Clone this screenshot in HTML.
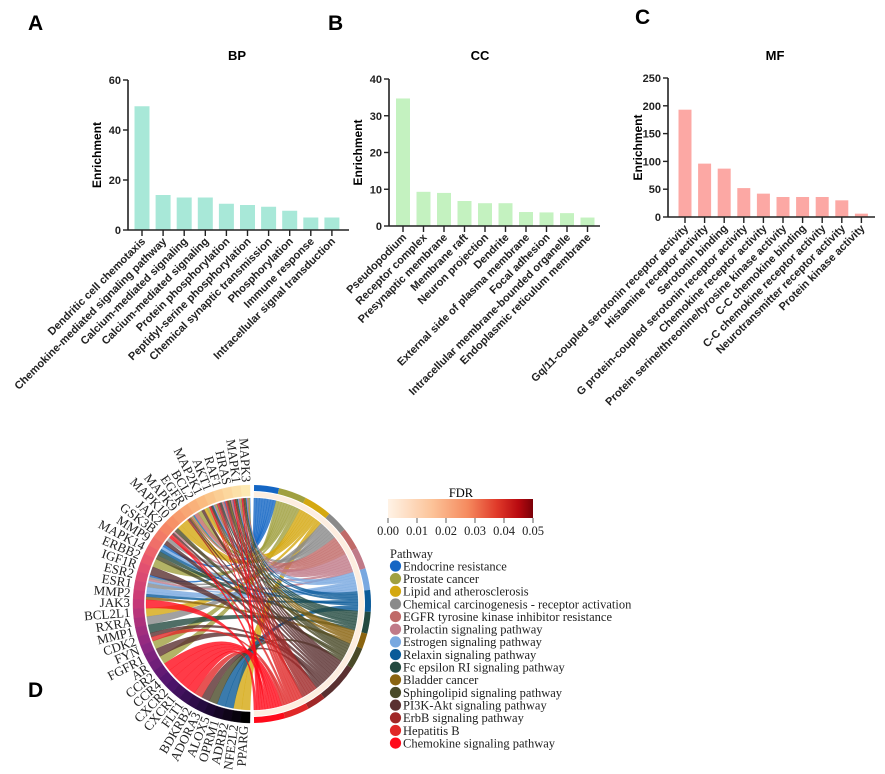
<!DOCTYPE html>
<html><head><meta charset="utf-8">
<style>
html,body{margin:0;padding:0;background:#fff;}
svg{display:block;}
.ax{font-family:"Liberation Sans",Arial,sans-serif;font-weight:bold;}
.tm{font-family:"Liberation Serif","Times New Roman",serif;}
</style></head>
<body>
<svg id="fig" width="885" height="774" viewBox="0 0 885 774" xmlns="http://www.w3.org/2000/svg">
<text x="28" y="30" class="ax" font-size="21">A</text>
<text x="328" y="30" class="ax" font-size="21">B</text>
<text x="635" y="24" class="ax" font-size="21">C</text>
<text x="28" y="697" class="ax" font-size="21">D</text>
<g id="panelA"></g>
<g id="panelB"></g>
<g id="panelC"></g>
<g id="chord"></g>
<g id="legend"></g>
</svg>
<script>
const bpCategories=["Dendritic cell chemotaxis","Chemokine-mediated signaling pathway","Calcium-mediated signaling","Calcium-mediated signaling","Protein phosphorylation","Peptidyl-serine phosphorylation","Chemical synaptic transmission","Phosphorylation","Immune response","Intracellular signal transduction"];
const bpValues=[49.5,14,13,13,10.5,10,9.3,7.7,5,5];
const bpTicks=[0,20,40,60];
const ccCategories=["Pseudopodium","Receptor complex","Presynaptic membrane","Membrane raft","Neuron projection","Dendrite","External side of plasma membrane","Focal adhesion","Intracellular membrane-bounded organelle","Endoplasmic reticulum membrane"];
const ccValues=[34.7,9.3,9,6.8,6.2,6.2,3.8,3.7,3.5,2.3];
const ccTicks=[0,10,20,30,40];
const mfCategories=["Gq/11-coupled serotonin receptor activity","Histamine receptor activity","Serotonin binding","G protein-coupled serotonin receptor activity","Chemokine receptor activity","Protein serine/threonine/tyrosine kinase activity","C-C chemokine binding","C-C chemokine receptor activity","Neurotransmitter receptor activity","Protein kinase activity"];
const mfValues=[193,96,87,52,42,36,36,36,30,6];
const mfTicks=[0,50,100,150,200,250];

const genes=["MAPK3","MAPK1","HRAS","RAF1","AKT1","MAP2K1","BCL2","EGFR","MAPK9","MAPK10","JAK2","GSK3B","MMP9","MAPK14","ERBB2","IGF1R","ESR2","ESR1","MMP2","JAK3","BCL2L1","RXRA","MMP1","CDK2","FYN","FGFR1","AR","CCR2","CCR4","CXCR2","CXCR1","FLT1","BDKRB2","ADORA3","ALOX5","OPRM1","ADRB2","NFE2L2","PPARG"];
const pathways=["Endocrine resistance","Prostate cancer","Lipid and atherosclerosis","Chemical carcinogenesis - receptor activation","EGFR tyrosine kinase inhibitor resistance","Prolactin signaling pathway","Estrogen signaling pathway","Relaxin signaling pathway","Fc epsilon RI signaling pathway","Bladder cancer","Sphingolipid signaling pathway","PI3K-Akt signaling pathway","ErbB signaling pathway","Hepatitis B","Chemokine signaling pathway"];
const pathwayColors=["#1466c4","#a0a040","#d4a810","#8a8a8a","#c06a68","#c07a88","#78a8e0","#0a5a98","#234a40","#8a6410","#4a4a28","#5a3030","#a02828","#e02828","#ff0a1a"];
const pathwayGenes=[
 [0,1,2,3,4,7,16,12],
 [0,1,4,5,6,7,14,24,26],
 [0,1,4,5,8,9,20,37,38],
 [17,16,21,0,1,4,11],
 [0,1,2,3,4,6,7],
 [0,1,2,3,4,10,16],
 [0,1,4,17,16,18,12],
 [0,1,4,18,12,36,35],
 [0,1,2,3,4,13,22],
 [0,1,2,7,18],
 [0,1,2,4,13,9,34],
 [0,1,2,3,4,5,7,10,15,23,25,11,33],
 [0,1,2,3,4,7],
 [0,1,2,3,4,10,23,32],
 [27,28,29,30,10,19,4,1,0,31]
];
const fdrTicks=["0.00","0.01","0.02","0.03","0.04","0.05"];

const NS="http://www.w3.org/2000/svg";
function mk(parent,tag,attrs,text){const e=document.createElementNS(NS,tag);for(const k in attrs)e.setAttribute(k,attrs[k]);if(text!==undefined)e.textContent=text;parent.appendChild(e);return e;}

function barChart(g,cfg){
  const {x0,x1,yTop,yBot,max,ticks,cats,vals,color,title,titleX,labX,firstC,step,bw}=cfg;
  const ys=v=>yBot-(v/max)*(yBot-yTop);
  const xs=i=>firstC+i*step;
  const t=mk(g,'text',{x:titleX,y:60,'text-anchor':'middle','font-size':13,class:'ax'},title);
  
  
  vals.forEach((v,i)=>{
    const r=mk(g,'rect',{x:xs(i)-bw/2,y:ys(v),width:bw,height:yBot-ys(v),fill:color});
    
    
  });
  const ya=mk(g,'line',{x1:x0,y1:yTop,x2:x0,y2:yBot,stroke:'#222','stroke-width':1.6});
  
  
  const xa=mk(g,'line',{x1:x0,y1:yBot,x2:x1,y2:yBot,stroke:'#222','stroke-width':1.6});
  
  
  ticks.forEach(v=>{
    mk(g,'line',{x1:x0-5,y1:ys(v),x2:x0,y2:ys(v),stroke:'#222','stroke-width':1.4});
    const tl=mk(g,'text',{x:x0-7,y:ys(v)+4,'text-anchor':'end','font-size':11,class:'ax',fill:'#222'},v);
    
    
  });
  cats.forEach((c,i)=>{
    mk(g,'line',{x1:xs(i),y1:yBot,x2:xs(i),y2:yBot+6,stroke:'#222','stroke-width':1.4});
    const ex=xs(i)+4, ey=yBot+12;
    const tl=mk(g,'text',{x:ex,y:ey,'text-anchor':'end','font-size':11,class:'ax',fill:'#222',transform:`rotate(-45 ${ex} ${ey})`},c);
    
    
  });
  const yl=mk(g,'text',{x:labX,y:(yTop+yBot)/2,'text-anchor':'middle','font-size':12,class:'ax',transform:`rotate(-90 ${labX} ${(yTop+yBot)/2})`},'Enrichment');
  
  
}
barChart(document.getElementById('panelA'),{x0:128,x1:349,yTop:80,yBot:230,max:60,ticks:bpTicks,cats:bpCategories,vals:bpValues,color:'#a8e8d8',title:'BP',titleX:237,labX:101,firstC:142,step:21.1,bw:15});
barChart(document.getElementById('panelB'),{x0:389,x1:600,yTop:79,yBot:226,max:40,ticks:ccTicks,cats:ccCategories,vals:ccValues,color:'#c4f2c0',title:'CC',titleX:480,labX:362,firstC:403,step:20.5,bw:14});
barChart(document.getElementById('panelC'),{x0:668,x1:875,yTop:78,yBot:217,max:250,ticks:mfTicks,cats:mfCategories,vals:mfValues,color:'#fca8a4',title:'MF',titleX:775,labX:642,firstC:685,step:19.6,bw:13});

// chord
(function(){
  const g=document.getElementById('chord');
  const cx=252, cy=604, R=119, Rin=108;
  const P=(a,r)=>[cx+r*Math.sin(a*Math.PI/180), cy-r*Math.cos(a*Math.PI/180)];
  const arc=(a1,a2,r1,r2)=>{const p1=P(a1,r2),p2=P(a2,r2),p3=P(a2,r1),p4=P(a1,r1);const lg=Math.abs(a2-a1)>180?1:0;
    return `M${p1} A${r2} ${r2} 0 ${lg} 1 ${p2} L${p3} A${r1} ${r1} 0 ${lg} 0 ${p4}Z`;};
  const stops=[[253,233,178],[250,190,130],[246,140,100],[232,85,110],[196,55,120],[140,40,130],[80,20,110],[35,10,60],[0,0,0]];
  const gcol=t=>{const s=t*(stops.length-1),i=Math.min(Math.floor(s),stops.length-2),f=s-i;const c=stops[i].map((v,k)=>Math.round(v+(stops[i+1][k]-v)*f));return `rgb(${c})`;};
  const total=pathwayGenes.reduce((s,a)=>s+a.length,0);
  const geneLinks=genes.map(()=>[]);
  pathwayGenes.forEach((gl,p)=>gl.forEach(gi=>geneLinks[gi].push(p)));
  const gw=178/genes.length;
  const geneStart=i=>359-i*gw;
  const slotG={};
  genes.forEach((n,i)=>{
    const a1=geneStart(i+1), a2=geneStart(i);
    const seg=mk(g,'path',{d:arc(a1,a2,Rin,R),fill:gcol(i/(genes.length-1)),stroke:gcol(i/(genes.length-1)),'stroke-width':0.4});
    
    
    const L=geneLinks[i].length||1;
    geneLinks[i].forEach((p,k)=>{slotG[i+'_'+p]=[a2-(k+1)*gw/L,a2-k*gw/L];});
    const am=(a1+a2)/2; const pt=P(am,R+3);
    const tx=mk(g,'text',{x:pt[0],y:pt[1],'text-anchor':'end','dominant-baseline':'middle','font-size':13,class:'tm',fill:'#222',transform:`rotate(${am-270} ${pt[0]} ${pt[1]})`},n);
    
    
  });
  let a=1; const pw=178/total; const slotP={};
  pathwayGenes.forEach((gl,p)=>{
    const a1=a,a2=a+gl.length*pw;
    const seg=mk(g,'path',{d:arc(a1,a2,R-6,R),fill:pathwayColors[p]});
    
    
    gl.forEach((gi,k)=>{slotP[gi+'_'+p]=[a1+k*pw,a1+(k+1)*pw];});
    a=a2;
  });
  const cr=mk(g,'path',{d:arc(1,179,Rin-1,R-7),fill:'#fdeee0'});
  
  
  const r=Rin-2;
  const order=[];pathwayGenes.forEach((gl,p)=>gl.forEach(gi=>order.push([gi,p])));
  order.forEach(([gi,p])=>{
    const [g1,g2]=slotG[gi+'_'+p],[p1,p2]=slotP[gi+'_'+p];
    const A=P(g1,r),B=P(g2,r),C=P(p1,r),D=P(p2,r);
    const d=`M${A} A${r} ${r} 0 0 1 ${B} Q${cx} ${cy} ${C} A${r} ${r} 0 0 1 ${D} Q${cx} ${cy} ${A}Z`;
    const rb=mk(g,'path',{d:d,fill:pathwayColors[p],'fill-opacity':0.8,stroke:pathwayColors[p],'stroke-opacity':0.6,'stroke-width':0.4});
    
    
  });
})();

// legend
(function(){
  const g=document.getElementById('legend');
  const defs=mk(g,'defs',{});
  const lgd=mk(defs,'linearGradient',{id:'fdrg',x1:0,x2:1,y1:0,y2:0});
  [['0','#fff3e6'],['0.3','#fcc49a'],['0.55','#f58a5e'],['0.75','#e03a2a'],['0.9','#b80a10'],['1','#7a0008']].forEach(s=>mk(lgd,'stop',{offset:s[0],'stop-color':s[1]}));
  const ft=mk(g,'text',{x:461,y:497,'text-anchor':'middle','font-size':12.5,class:'tm'},'FDR');
  
  
  const cb=mk(g,'rect',{x:388,y:499,width:145,height:19,fill:'url(#fdrg)'});
  
  
  fdrTicks.forEach((t,i)=>{
    const x=388+i*29;
    mk(g,'line',{x1:x,y1:518,x2:x,y2:523,stroke:'#333','stroke-width':0.8});
    const tl=mk(g,'text',{x:x,y:535,'text-anchor':'middle','font-size':12.5,class:'tm',fill:'#222'},t);
    
    
  });
  const pt=mk(g,'text',{x:390,y:558,'font-size':12.5,class:'tm',fill:'#222'},'Pathway');
  
  
  pathways.forEach((n,i)=>{
    const y=566+i*12.65;
    const e=mk(g,'g',{});
    
    
    mk(e,'circle',{cx:395.5,cy:y,r:5.6,fill:pathwayColors[i]});
    mk(e,'text',{x:403,y:y+4.3,'font-size':12.5,class:'tm',fill:'#222'},n);
  });
})();
</script>
</body></html>
